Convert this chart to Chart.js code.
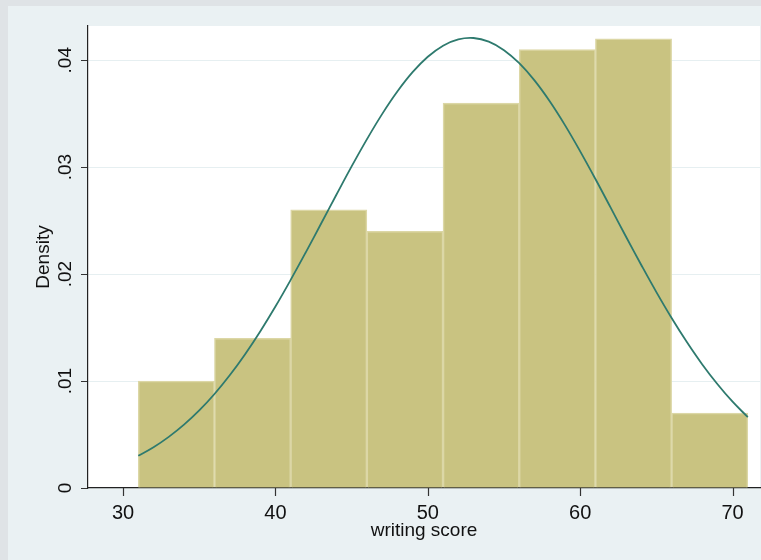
<!DOCTYPE html>
<html>
<head>
<meta charset="utf-8">
<script src="https://cdn.jsdelivr.net/npm/chart.js@4/dist/chart.umd.min.js"></script>
<style>
  html, body { margin: 0; padding: 0; background: #dfe3e6; }
  #wrap { position: absolute; left: 0; top: 0; width: 761px; height: 560px; }
  canvas { display: block; }
</style>
</head>
<body>
<div id="wrap"><canvas id="c" width="761" height="560"></canvas></div>
<script>
// Histogram bins of writing score (width 5, starting at 31)
const binStarts = [31, 36, 41, 46, 51, 56, 61, 66];
const binWidth = 5;
const binDensity = [0.010, 0.014, 0.026, 0.024, 0.036, 0.041, 0.042, 0.007];

// Normal density overlay, sampled along the score axis
const curveX = [31, 32, 33, 34, 35, 36, 37, 38, 39, 40, 41, 42, 43, 44, 45, 46, 47, 48, 49, 50,
                51, 52, 53, 54, 55, 56, 57, 58, 59, 60, 61, 62, 63, 64, 65, 66, 67, 68, 69, 70, 71];
const curveY = [0.00301, 0.00381, 0.00478, 0.00592, 0.00725, 0.00879, 0.01054, 0.01249, 0.01464, 0.01697,
                0.01946, 0.02206, 0.02473, 0.02742, 0.03007, 0.03260, 0.03496, 0.03707, 0.03888, 0.04032,
                0.04136, 0.04195, 0.04208, 0.04174, 0.04094, 0.03972, 0.03811, 0.03616, 0.03393, 0.03148,
                0.02889, 0.02621, 0.02352, 0.02088, 0.01832, 0.01590, 0.01365, 0.01158, 0.00973, 0.00807,
                0.00663];

// Axis ticks
const xTicks = [30, 40, 50, 60, 70];
const yTicks = [0, 0.01, 0.02, 0.03, 0.04];
const yTickLabels = ['0', '.01', '.02', '.03', '.04'];

const FONT = '"Liberation Sans", Arial, sans-serif';

const barData = binStarts.map((s, i) => ({ x: s + binWidth / 2, y: binDensity[i] }));
const lineData = curveX.map((x, i) => ({ x: x, y: curveY[i] }));

// Panel background behind the plot region
const panelBg = {
  id: 'panelBg',
  beforeDraw(chart) {
    const ctx = chart.ctx;
    const a = chart.chartArea;
    ctx.save();
    ctx.fillStyle = '#dfe3e6';
    ctx.fillRect(0, 0, chart.width, chart.height);
    ctx.fillStyle = '#eaf1f3';
    ctx.fillRect(8, 6, chart.width - 8, chart.height - 6);
    ctx.fillStyle = '#ffffff';
    ctx.fillRect(a.left, a.top, a.right - a.left, a.bottom - a.top);
    ctx.restore();
  }
};

// Vertical tick labels, x tick marks and axis titles
const axisText = {
  id: 'axisText',
  afterDraw(chart) {
    const ctx = chart.ctx;
    const ys = chart.scales.y;
    const xs = chart.scales.x;
    const a = chart.chartArea;
    ctx.save();
    ctx.strokeStyle = '#333333';
    ctx.lineWidth = 1.2;
    xTicks.forEach(v => {
      const px = Math.round(xs.getPixelForValue(v)) + 0.5;
      ctx.beginPath();
      ctx.moveTo(px, a.bottom);
      ctx.lineTo(px, a.bottom + 8);
      ctx.stroke();
    });
    ctx.fillStyle = '#111111';
    ctx.font = '19px ' + FONT;
    ctx.textAlign = 'center';
    ctx.textBaseline = 'middle';
    yTicks.forEach((v, i) => {
      const py = ys.getPixelForValue(v);
      ctx.save();
      ctx.translate(66, py);
      ctx.rotate(-Math.PI / 2);
      ctx.fillText(yTickLabels[i], 0, 0);
      ctx.restore();
    });
    ctx.save();
    ctx.translate(44, (a.top + a.bottom) / 2);
    ctx.rotate(-Math.PI / 2);
    ctx.fillText('Density', 0, 0);
    ctx.restore();
    ctx.fillText('writing score', (a.left + a.right) / 2, 531);
    ctx.restore();
  }
};

new Chart(document.getElementById('c'), {
  data: {
    datasets: [
      {
        type: 'line',
        data: lineData,
        borderColor: '#2e7a6e',
        borderWidth: 1.8,
        pointRadius: 0,
        tension: 0.4,
        fill: false,
        order: 0
      },
      {
        type: 'bar',
        data: barData,
        backgroundColor: '#c9c381',
        borderColor: '#dcd7a6',
        borderWidth: 1.5,
        barPercentage: 1,
        categoryPercentage: 1,
        grouped: false,
        order: 1
      }
    ]
  },
  options: {
    responsive: false,
    animation: false,
    devicePixelRatio: 1,
    layout: { padding: { top: 26, right: 1, left: 0, bottom: 0 } },
    plugins: { legend: { display: false }, tooltip: { enabled: false } },
    scales: {
      x: {
        type: 'linear',
        min: 27.7,
        max: 71.8,
        offset: false,
        afterFit(scale) { scale.height = 72; },
        afterBuildTicks(scale) { scale.ticks = xTicks.map(v => ({ value: v })); },
        ticks: {
          color: '#111111',
          font: { family: FONT, size: 20 },
          padding: 5,
          maxRotation: 0,
          callback: v => String(v)
        },
        grid: { display: false },
        border: { display: true, color: '#222222', width: 1.2 }
      },
      y: {
        type: 'linear',
        min: 0,
        max: 0.0432,
        afterFit(scale) { scale.width = 88; },
        afterBuildTicks(scale) { scale.ticks = yTicks.map(v => ({ value: v })); },
        ticks: { display: false },
        grid: { display: true, color: '#e6eff1', lineWidth: 1, tickLength: 7, tickColor: '#333333' },
        border: { display: true, color: '#222222', width: 1.2 }
      }
    }
  },
  plugins: [panelBg, axisText]
});
</script>
</body>
</html>
